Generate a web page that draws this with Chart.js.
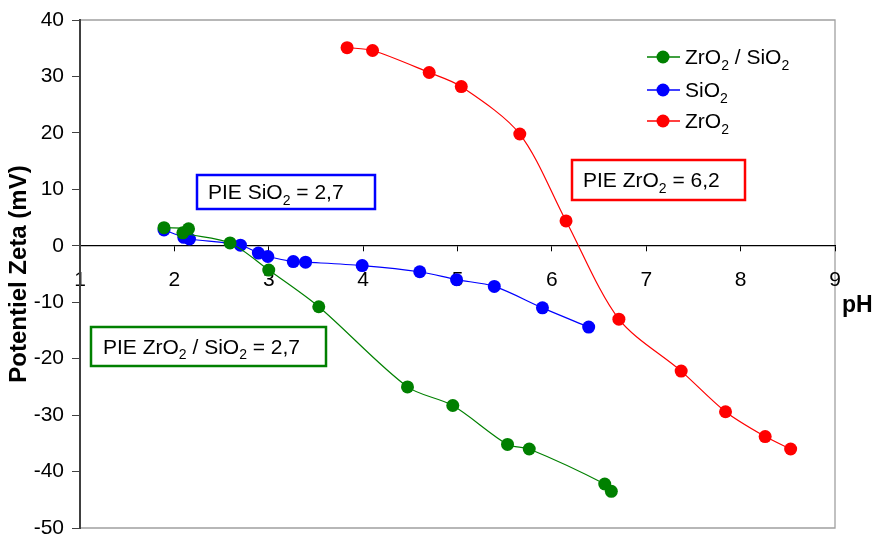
<!DOCTYPE html>
<html>
<head>
<meta charset="utf-8">
<script src="https://cdn.jsdelivr.net/npm/chart.js@4.4.0/dist/chart.umd.min.js"></script>
<style>
  html, body { margin: 0; padding: 0; background: #fff; }
</style>
</head>
<body>
<canvas id="myChart" width="888" height="539"></canvas>
<script>
// mesures de potentiel zeta en fonction du pH
var phMixte = [1.89, 2.15, 2.09, 2.59, 3.00, 3.53, 4.47, 4.95, 5.53, 5.76, 6.56, 6.63];
var zetaMixte = [3.2, 3.0, 2.3, 0.5, -4.3, -10.8, -25.0, -28.3, -35.2, -36.0, -42.2, -43.5];

var phSilice = [1.89, 2.10, 2.16, 2.70, 2.89, 2.99, 3.26, 3.39, 3.99, 4.60, 4.99, 5.39, 5.90, 6.39];
var zetaSilice = [2.8, 1.5, 1.2, 0.1, -1.3, -1.9, -2.8, -2.9, -3.5, -4.6, -6.0, -7.2, -11.0, -14.4];

var phZircone = [3.83, 4.10, 4.70, 5.04, 5.66, 6.15, 6.71, 7.37, 7.84, 8.26, 8.53];
var zetaZircone = [35.1, 34.6, 30.7, 28.2, 19.8, 4.4, -13.0, -22.2, -29.4, -33.8, -36.0];

var seriesNames = ['ZrO2 / SiO2', 'SiO2', 'ZrO2'];
var seriesColors = ['#008000', '#0000ff', '#ff0000'];
var pieLabels = ['PIE SiO2 = 2,7', 'PIE ZrO2 = 6,2', 'PIE ZrO2 / SiO2 = 2,7'];
var yTitle = 'Potentiel Zeta (mV)';
var xTitle = 'pH';

var FONT = "'Liberation Sans', Arial, sans-serif";

function toPoints(xs, ys) {
    return xs.map(function (x, i) { return { x: x, y: ys[i] }; });
}

// texte chimique : un chiffre collé à une lettre passe en indice
function drawChem(ctx, text, x, y, size) {
    var parts = text.split(/(?<=[A-Za-z])(\d)/);
    var cx = x;
    for (var i = 0; i < parts.length; i++) {
        if (!parts[i]) continue;
        if (i % 2 == 1) {
            ctx.font = Math.round(size * 0.65) + 'px ' + FONT;
            ctx.fillText(parts[i], cx, y + size * 0.28);
        } else {
            ctx.font = size + 'px ' + FONT;
            ctx.fillText(parts[i], cx, y);
        }
        cx += ctx.measureText(parts[i]).width;
    }
    return cx - x;
}

var decor = {
    id: 'decor',
    beforeDraw: function (chart) {
        // cadre gris de la zone de tracé
        var ctx = chart.ctx, a = chart.chartArea;
        ctx.save();
        ctx.strokeStyle = '#a0a0a0';
        ctx.lineWidth = 1.3;
        ctx.beginPath();
        ctx.moveTo(a.left, a.top);
        ctx.lineTo(a.right, a.top);
        ctx.lineTo(a.right, a.bottom);
        ctx.lineTo(a.left, a.bottom);
        ctx.stroke();
        ctx.restore();
    },
    afterDraw: function (chart) {
        var ctx = chart.ctx;
        ctx.save();
        ctx.fillStyle = '#000';
        ctx.textBaseline = 'alphabetic';
        ctx.textAlign = 'left';

        // légende
        var rows = [57, 90, 121];
        for (var i = 0; i < seriesNames.length; i++) {
            var ly = rows[i];
            ctx.strokeStyle = seriesColors[i];
            ctx.lineWidth = 1.3;
            ctx.beginPath();
            ctx.moveTo(647, ly);
            ctx.lineTo(680, ly);
            ctx.stroke();
            ctx.fillStyle = seriesColors[i];
            ctx.beginPath();
            ctx.arc(663, ly, 6.5, 0, Math.PI * 2);
            ctx.fill();
            ctx.fillStyle = '#000';
            drawChem(ctx, seriesNames[i], 685, ly + 7, 21);
        }

        // encadrés PIE
        var boxes = [
            { l: 197, t: 175, w: 178, h: 34, c: seriesColors[1], tx: 208 },
            { l: 572, t: 160, w: 173, h: 40, c: seriesColors[2], tx: 583 },
            { l: 91, t: 327, w: 235, h: 39, c: seriesColors[0], tx: 103 }
        ];
        boxes.forEach(function (b, k) {
            ctx.fillStyle = '#fff';
            ctx.fillRect(b.l, b.t, b.w, b.h);
            ctx.strokeStyle = b.c;
            ctx.lineWidth = 2.5;
            ctx.strokeRect(b.l, b.t, b.w, b.h);
            ctx.fillStyle = '#000';
            drawChem(ctx, pieLabels[k], b.tx, b.t + b.h / 2 + 7, 21);
        });

        // titres des axes
        ctx.font = 'bold 23px ' + FONT;
        ctx.textBaseline = 'middle';
        ctx.fillText(xTitle, 842, 306);
        ctx.translate(19, 274);
        ctx.rotate(-Math.PI / 2);
        ctx.textAlign = 'center';
        ctx.font = 'bold 24px ' + FONT;
        ctx.fillText(yTitle, 0, 0);
        ctx.restore();
    }
};

var ctx = document.getElementById('myChart').getContext('2d');
var myChart = new Chart(ctx, {
    type: 'scatter',
    data: {
        datasets: [
            { label: seriesNames[0], data: toPoints(phMixte, zetaMixte) },
            { label: seriesNames[1], data: toPoints(phSilice, zetaSilice) },
            { label: seriesNames[2], data: toPoints(phZircone, zetaZircone) }
        ].map(function (d, i) {
            d.showLine = true;
            d.borderColor = seriesColors[i];
            d.backgroundColor = seriesColors[i];
            d.borderWidth = 1.2;
            d.pointRadius = 6.5;
            d.pointBorderWidth = 0;
            d.tension = 0.3;
            d.clip = false;
            return d;
        })
    },
    options: {
        responsive: false,
        animation: false,
        layout: { padding: { left: 0, top: 20, right: 53, bottom: 11 } },
        plugins: { legend: { display: false }, tooltip: { enabled: false } },
        scales: {
            x: {
                type: 'linear',
                position: { y: 0 },
                min: 1, max: 9,
                ticks: { stepSize: 1, color: '#000', padding: 17, font: { size: 21, family: FONT } },
                grid: { drawOnChartArea: false, tickLength: 5, color: '#000' },
                border: { color: '#000', width: 1.3 },
                afterFit: function (s) {
                    s.paddingLeft = 0; s.paddingRight = 0;
                    s.paddingTop = 0; s.paddingBottom = 0;
                }
            },
            y: {
                min: -50, max: 40,
                ticks: { stepSize: 10, color: '#000', padding: 8, font: { size: 21, family: FONT } },
                grid: { drawOnChartArea: false, tickLength: 8, color: '#404040' },
                border: { color: '#404040', width: 2 },
                afterFit: function (s) {
                    s.width = 80;
                    s.paddingTop = 0; s.paddingBottom = 0;
                }
            }
        }
    },
    plugins: [decor]
});
</script>
</body>
</html>
